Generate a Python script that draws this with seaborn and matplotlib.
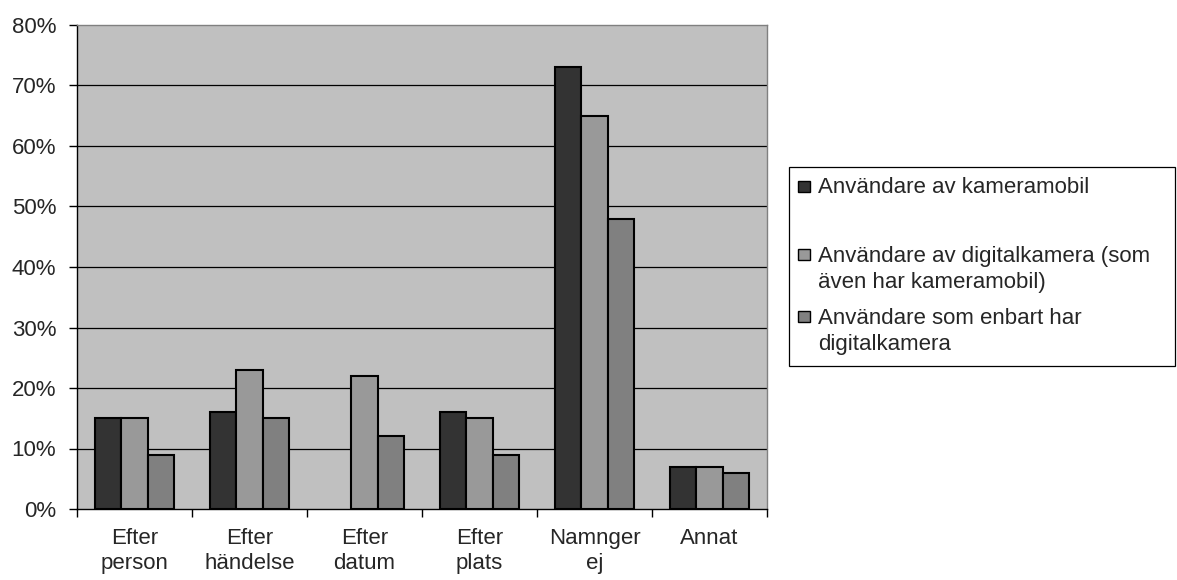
import matplotlib
matplotlib.use("Agg")
import matplotlib.pyplot as plt
import matplotlib.patches as mpatches
import numpy as np
import pandas as pd
import seaborn as sns

# Kategorier och andelar (procent)
categories = ["Efter\nperson", "Efter\nhändelse", "Efter\ndatum", "Efter\nplats", "Namnger\nej", "Annat"]
series_names = [
    "Användare av kameramobil",
    "Användare av digitalkamera (som\näven har kameramobil)",
    "Användare som enbart har\ndigitalkamera",
]
kameramobil = [15, 16, 0, 16, 73, 7]
digitalkamera_med_mobil = [15, 23, 22, 15, 65, 7]
enbart_digitalkamera = [9, 15, 12, 9, 48, 6]
colors = ["#333333", "#999999", "#808080"]

rows = []
for name, vals in zip(series_names, [kameramobil, digitalkamera_med_mobil, enbart_digitalkamera]):
    for cat, v in zip(categories, vals):
        rows.append({"Kategori": cat, "Grupp": name, "Andel": v})
df = pd.DataFrame(rows)

sns.set_theme(style="white")
plt.rcParams["font.family"] = ["Liberation Sans", "DejaVu Sans"]

W, H = 1177, 580
fig = plt.figure(figsize=(W / 100, H / 100), dpi=100)
ax = fig.add_axes([77 / W, 1 - 509 / H, (767 - 77) / W, (509 - 25) / H])
ax.set_facecolor("#C0C0C0")

sns.barplot(data=df, x="Kategori", y="Andel", hue="Grupp", order=categories,
            hue_order=series_names, palette=colors, width=0.68,
            edgecolor="black", linewidth=1.5, saturation=1, ax=ax, legend=False, zorder=3)

# staplar med värdet 0 ritas utan kantlinje
for bar in ax.patches:
    if bar.get_height() == 0:
        bar.set_linewidth(0)

ax.set_ylim(0, 80)
ax.set_xlim(-0.5, len(categories) - 0.5)
ax.set_yticks(np.arange(0, 81, 10))
ax.set_yticklabels([f"{v}%" for v in range(0, 81, 10)], fontsize=16)
ax.set_xticks(range(len(categories)))
ax.set_xticklabels(categories, fontsize=16, linespacing=1.25)
ax.set_xticks(np.arange(-0.5, len(categories), 1.0), minor=True)
ax.tick_params(axis="x", which="major", length=0, pad=14)
ax.tick_params(axis="x", which="minor", length=6, width=1, color="black", direction="out", bottom=True)
ax.tick_params(axis="y", which="major", length=6, width=1, color="black", direction="out", left=True, pad=9)
ax.set_xlabel("")
ax.set_ylabel("")

for y in range(10, 80, 10):
    ax.axhline(y, color="black", linewidth=0.9, zorder=1)

for side in ["left", "bottom"]:
    ax.spines[side].set_color("black")
    ax.spines[side].set_linewidth(1.0)
for side in ["top", "right"]:
    ax.spines[side].set_color("#808080")
    ax.spines[side].set_linewidth(1.0)
    ax.spines[side].set_visible(True)


# Förklaring (legend), i pixelkoordinater
def fx(px):
    return px / W


def fy(py):
    return 1 - py / H


fig.patches.append(mpatches.Rectangle((fx(789), fy(366)), fx(1175) - fx(789), (366 - 167) / H,
                                      transform=fig.transFigure, facecolor="white",
                                      edgecolor="black", linewidth=0.9))
first_baselines = [193, 261, 323]
last_baselines = [193, 288, 350]
for name, col, yb, yl in zip(series_names, colors, first_baselines, last_baselines):
    fig.patches.append(mpatches.Rectangle((fx(798), fy(yb - 1)), 12 / W, 11 / H,
                                          transform=fig.transFigure, facecolor=col,
                                          edgecolor="black", linewidth=1.0))
    fig.text(fx(818), fy(yl), name, fontsize=16, va="baseline", ha="left",
             linespacing=1.3, transform=fig.transFigure)

fig.savefig("out.png", dpi=100)
